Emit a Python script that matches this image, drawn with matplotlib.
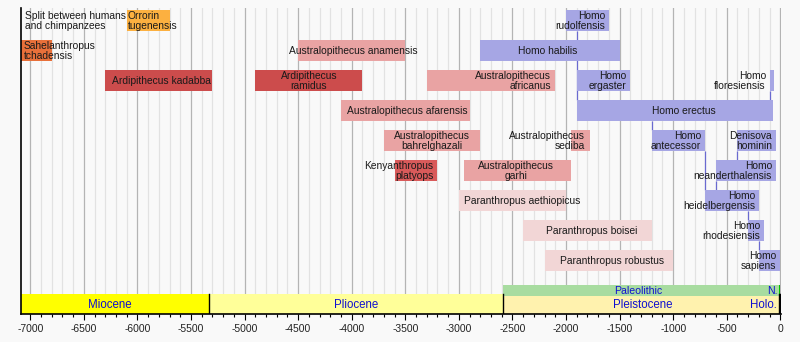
import matplotlib
matplotlib.use("Agg")
import matplotlib.pyplot as plt
from matplotlib.ticker import MultipleLocator

plt.rcParams['font.family'] = ['Liberation Sans', 'DejaVu Sans']
plt.rcParams['axes.unicode_minus'] = False

# ===== Data: thousands of years (negative = ago) =====
names = [
    "Split between humans\nand chimpanzees", "Orrorin\ntugenensis", "Homo\nrudolfensis",
    "Sahelanthropus\ntchadensis", "Australopithecus anamensis", "Homo habilis",
    "Ardipithecus kadabba", "Ardipithecus\nramidus", "Australopithecus\nafricanus",
    "Homo\nergaster", "Homo\nfloresiensis",
    "Australopithecus afarensis", "Homo erectus",
    "Australopithecus\nbahrelghazali", "Australopithecus\nsediba", "Homo\nantecessor",
    "Denisova\nhominin",
    "Kenyanthropus\nplatyops", "Australopithecus\ngarhi", "Homo\nneanderthalensis",
    "Paranthropus aethiopicus", "Homo\nheidelbergensis",
    "Paranthropus boisei", "Homo\nrhodesiensis",
    "Paranthropus robustus", "Homo\nsapiens",
]
starts = [-7090, -6100, -2000,
          -7090, -4500, -2800,
          -6300, -4900, -3300, -1900, -100,
          -4100, -1900,
          -3700, -1950, -1200, -400,
          -3600, -2950, -600,
          -3000, -700,
          -2400, -300,
          -2200, -200]
ends = [-6100, -5700, -1600,
        -6800, -3500, -1500,
        -5300, -3900, -2100, -1400, -60,
        -2900, -70,
        -2800, -1780, -700, -40,
        -3200, -1950, -40,
        -2000, -200,
        -1200, -150,
        -1000, 0]
rows = [0, 0, 0,
        1, 1, 1,
        2, 2, 2, 2, 2,
        3, 3,
        4, 4, 4, 4,
        5, 5, 5,
        6, 6,
        7, 7,
        8, 8]
groups = ["split", "orrorin", "homo",
          "sahel", "austral", "homo",
          "ardi", "ardi", "austral", "homo", "homo",
          "austral", "homo",
          "austral", "austral", "homo", "homo",
          "kenyan", "austral", "homo",
          "para", "homo",
          "para", "homo",
          "para", "homo"]
aligns = ["left", "left", "right",
          "left", "center", "center",
          "center", "center", "right", "right", "right",
          "center", "center",
          "center", "right", "right", "right",
          "right", "center", "right",
          "center", "right",
          "center", "right",
          "center", "right"]
shifts = [4, 1, -4,
          3, 2, -2,
          3, 0, -4, -4, -8,
          2, 9,
          0, -5, -4, -4,
          -4, -2, -4,
          10, -4,
          4, -4,
          3, -4]

group_colors = {
    "split": None,
    "orrorin": "#fcb040",
    "sahel": "#e8703a",
    "ardi": "#cc4c4c",
    "kenyan": "#d95a5a",
    "austral": "#e9a3a3",
    "para": "#f2d6d6",
    "homo": "#a6a6e4",
}

# ancestry links: year, from row, to row
link_years = [-1900, -1200, -700, -400, -600, -300, -200, -100]
link_from = [0, 3, 4, 4, 5, 6, 7, 2]
link_to = [3, 4, 6, 5, 6, 7, 8, 3]

# geological epochs
epochs = ["Miocene", "Pliocene", "Pleistocene", "Holo."]
epoch_starts = [-7090, -5333, -2588, -11.7]
epoch_ends = [-5333, -2588, -11.7, 0]
epoch_colors = ["#ffff00", "#ffff99", "#fff2ae", "#fdf0c0"]
epoch_shifts = [-5, 0, 2, -2]

# archaeological periods
periods = ["Paleolithic", "N."]
period_starts = [-2588, -12]
period_ends = [-12, 0]
period_colors = ["#a8dca0", "#00c000"]

# ===== Figure =====
fig = plt.figure(figsize=(8, 3.42), dpi=100, facecolor="#f9f9f9")
ax = fig.add_axes([20.66 / 800, 28 / 342, 760.2 / 800, 306 / 342])
ax.set_facecolor("#f9f9f9")
ax.set_xlim(-7090, 5)
ax.set_ylim(9.783, -0.417)

bar_h = 0.7
txt = dict(fontsize=7.4, color="#1a1a1a", linespacing=1.0, va="center")

for name, s, e, r, g, al, sh in zip(names, starts, ends, rows, groups, aligns, shifts):
    c = group_colors[g]
    if c is not None:
        ax.barh(r, e - s, left=s, height=bar_h, color=c, zorder=3, linewidth=0)
    if al == "left":
        x = s
    elif al == "right":
        x = e
    else:
        x = (s + e) / 2
    ax.annotate(name, (x, r), xytext=(sh, 0), textcoords="offset pixels",
                ha=al, zorder=5, annotation_clip=False, **txt)

for yr, r0, r1 in zip(link_years, link_from, link_to):
    ax.plot([yr, yr], [r0 + bar_h / 2, r1 - bar_h / 2], color="#6a6ad0",
            lw=0.9, zorder=2.5, solid_capstyle="butt")

# epoch band
ep_top, ep_bot = 9.117, 9.783
for name, s, e, c, sh in zip(epochs, epoch_starts, epoch_ends, epoch_colors, epoch_shifts):
    ax.barh((ep_top + ep_bot) / 2, e - s, left=s, height=ep_bot - ep_top,
            color=c, zorder=3, linewidth=0)
    if name == "Holo.":
        ax.annotate(name, (s, (ep_top + ep_bot) / 2 + 0.03), xytext=(sh, 0),
                    textcoords="offset pixels", ha="right", va="center",
                    fontsize=8.3, color="#1010d0", zorder=5)
    else:
        ax.annotate(name, ((s + e) / 2, (ep_top + ep_bot) / 2 + 0.03), xytext=(sh, 0),
                    textcoords="offset pixels", ha="center", va="center",
                    fontsize=8.3, color="#1010d0", zorder=5)
for b in epoch_ends:
    ax.plot([b, b], [ep_top, ep_bot], color="black", lw=1, zorder=4)

# period band
pe_top, pe_bot = 8.817, 9.183
for name, s, e, c in zip(periods, period_starts, period_ends, period_colors):
    ax.barh((pe_top + pe_bot) / 2, e - s, left=s, height=pe_bot - pe_top,
            color=c, zorder=3.5, linewidth=0)
ax.annotate(periods[0], ((period_starts[0] + period_ends[0]) / 2, (pe_top + pe_bot) / 2),
            xytext=(-3, 0), textcoords="offset pixels", ha="center", va="center",
            fontsize=7.6, color="#1010d0", zorder=5)
ax.annotate(periods[1], (period_starts[1], (pe_top + pe_bot) / 2),
            xytext=(-1, 0), textcoords="offset pixels", ha="right", va="center",
            fontsize=7.6, color="#1010d0", zorder=5)

# axes, ticks, grid
ax.xaxis.set_major_locator(MultipleLocator(500))
ax.xaxis.set_minor_locator(MultipleLocator(100))
ax.grid(which="major", axis="x", color="#b4b4b4", lw=0.9, zorder=1)
ax.grid(which="minor", axis="x", color="#e2e2e2", lw=0.9, zorder=0.5)
ax.set_axisbelow(True)
ax.set_yticks([])
ax.tick_params(axis="x", which="major", length=4, width=0.8, labelsize=7.4,
               labelcolor="#222222", pad=3)
ax.tick_params(axis="x", which="minor", length=2.5, width=0.8)
for sp in ["top", "right"]:
    ax.spines[sp].set_visible(False)
ax.spines["left"].set_linewidth(1.2)
ax.spines["bottom"].set_linewidth(1.2)
ax.spines["left"].set_zorder(6)
ax.spines["bottom"].set_zorder(6)

fig.savefig("out.png", dpi=100, facecolor=fig.get_facecolor())
